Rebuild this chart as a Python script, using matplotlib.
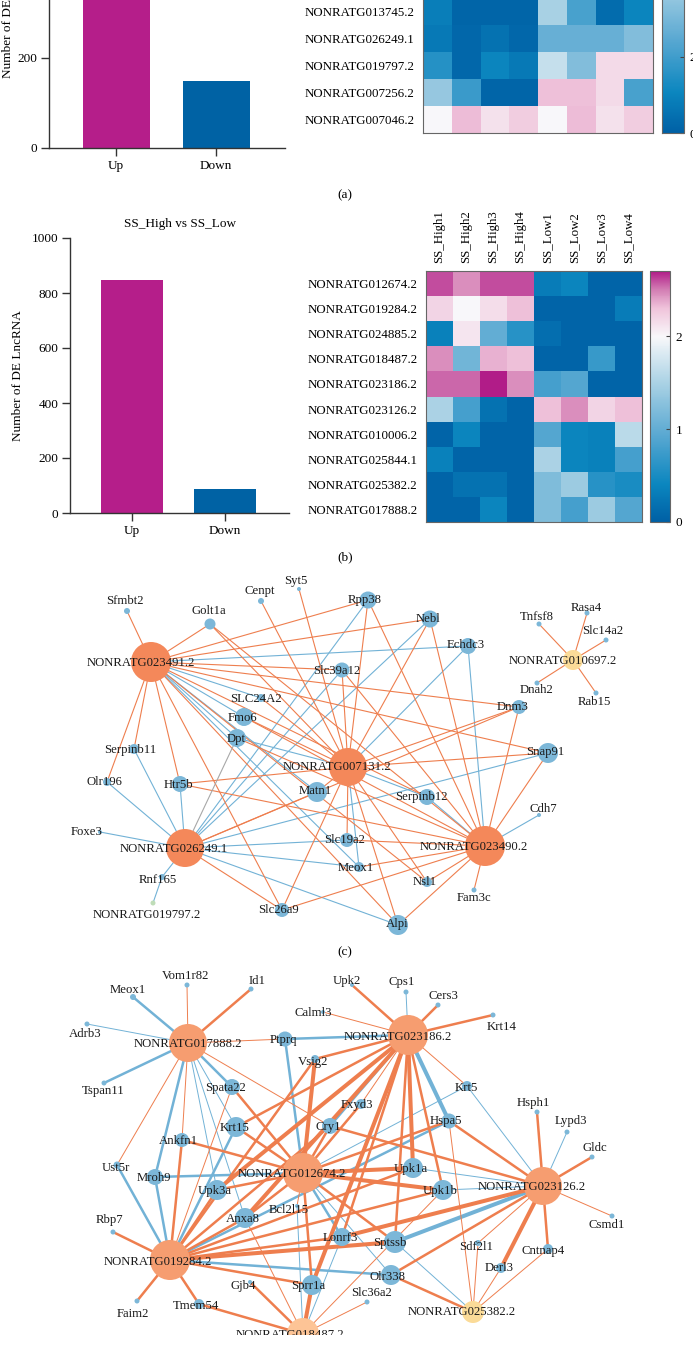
import matplotlib
matplotlib.use('Agg')
import matplotlib.pyplot as plt
import numpy as np
from matplotlib.colors import LinearSegmentedColormap
from matplotlib.patches import Circle, Rectangle
from matplotlib.collections import LineCollection

plt.rcParams['font.family'] = ['Liberation Serif', 'DejaVu Serif']
plt.rcParams['font.size'] = 9

W, H = 693, 1345

# ---------------- data ----------------
bar_groups = ['Up', 'Down']
bar_a = [405, 148]
bar_b = [848, 86]
title_b = 'SS_High vs SS_Low'

samples = ['SS_High1', 'SS_High2', 'SS_High3', 'SS_High4',
           'SS_Low1', 'SS_Low2', 'SS_Low3', 'SS_Low4']

genes_a = ['NONRATG013745.2', 'NONRATG026249.1', 'NONRATG019797.2',
           'NONRATG007256.2', 'NONRATG007046.2']
heat_a = np.array([
    [0.85, 0.15, 0.15, 0.15, 3.9, 2.15, 0.35, 1.05],
    [0.7, 0.2, 0.5, 0.2, 2.7, 2.7, 2.7, 3.2],
    [1.55, 0.2, 1.05, 0.7, 4.4, 3.2, 5.7, 5.7],
    [3.55, 1.9, 0.15, 0.15, 6.05, 6.05, 5.7, 2.15],
    [5.25, 6.1, 5.6, 5.9, 5.25, 6.1, 5.6, 5.9],
])

genes_b = ['NONRATG012674.2', 'NONRATG019284.2', 'NONRATG024885.2',
           'NONRATG018487.2', 'NONRATG023186.2', 'NONRATG023126.2',
           'NONRATG010006.2', 'NONRATG025844.1', 'NONRATG025382.2',
           'NONRATG017888.2']
heat_b = np.array([
    [2.6, 2.45, 2.6, 2.6, 0.3, 0.4, 0.05, 0.05],
    [2.2, 2.0, 2.15, 2.3, 0.05, 0.05, 0.05, 0.3],
    [0.35, 2.1, 1.0, 0.6, 0.15, 0.05, 0.05, 0.05],
    [2.45, 1.1, 2.35, 2.3, 0.05, 0.05, 0.7, 0.05],
    [2.55, 2.55, 2.7, 2.45, 0.8, 0.9, 0.05, 0.05],
    [1.5, 0.8, 0.2, 0.05, 2.3, 2.45, 2.2, 2.3],
    [0.05, 0.4, 0.05, 0.05, 0.9, 0.4, 0.35, 1.6],
    [0.35, 0.05, 0.05, 0.05, 1.5, 0.4, 0.35, 0.8],
    [0.05, 0.2, 0.2, 0.05, 1.2, 1.4, 0.6, 0.5],
    [0.05, 0.05, 0.4, 0.05, 1.2, 0.8, 1.4, 0.9],
])

# network (c): lncRNA - mRNA pairs
A, B, C, D = 'NONRATG023491.2', 'NONRATG007131.2', 'NONRATG026249.1', 'NONRATG023490.2'
Y, G = 'NONRATG010697.2', 'NONRATG019797.2'
lnc_c = [A, B, C, D, Y, G]
edges_c_pos = [
    (A, 'Sfmbt2'), (A, 'Golt1a'), (A, 'Rpp38'), (A, 'Nebl'), (A, 'Slc39a12'), (A, 'Dnm3'),
    (A, 'Snap91'), (A, 'Serpinb12'), (A, 'Serpinb11'), (A, 'Olr196'), (A, 'Htr5b'),
    (A, 'Slc26a9'), (A, 'Nsl1'), (A, 'Alpi'),
    (B, 'Cenpt'), (B, 'Syt5'), (B, 'Golt1a'), (B, 'SLC24A2'), (B, 'Fmo6'), (B, 'Rpp38'),
    (B, 'Nebl'), (B, 'Slc39a12'), (B, 'Dnm3'), (B, 'Snap91'), (B, 'Matn1'), (B, 'Slc19a2'),
    (B, 'Nsl1'), (B, 'Alpi'), (B, 'Slc26a9'), (B, 'Htr5b'),
    (C, 'Matn1'), (C, 'Dnm3'), (C, 'Slc26a9'),
    (D, 'Rpp38'), (D, 'Nebl'), (D, 'Dnm3'), (D, 'Snap91'), (D, 'Slc39a12'), (D, 'Fmo6'),
    (D, 'Dpt'), (D, 'Htr5b'), (D, 'Slc19a2'), (D, 'Meox1'), (D, 'Nsl1'), (D, 'Fam3c'),
    (D, 'Alpi'), (D, 'Slc26a9'), (D, 'Golt1a'),
    (Y, 'Tnfsf8'), (Y, 'Rasa4'), (Y, 'Slc14a2'), (Y, 'Dnah2'), (Y, 'Rab15'),
]
edges_c_neg = [
    (A, 'Echdc3'), (A, 'Fmo6'), (A, 'Dpt'), (A, 'Matn1'), (A, 'SLC24A2'), (A, 'Meox1'),
    (B, 'Echdc3'), (B, 'Serpinb12'), (B, 'Meox1'), (B, 'Dpt'),
    (C, 'Serpinb11'), (C, 'Olr196'), (C, 'Htr5b'), (C, 'Foxe3'), (C, 'Rnf165'),
    (C, 'Slc39a12'), (C, 'Rpp38'), (C, 'Nebl'), (C, 'Slc19a2'), (C, 'Meox1'), (C, 'Alpi'),
    (C, 'Snap91'),
    (D, 'Echdc3'), (D, 'Cdh7'), (D, 'Serpinb12'),
    (G, 'Rnf165'),
]
edges_c_other = [(C, 'Dpt')]

# network (d): lncRNA - mRNA pairs with correlation strength class
E, F, Gd, Hd = 'NONRATG017888.2', 'NONRATG023186.2', 'NONRATG012674.2', 'NONRATG019284.2'
I, J, K = 'NONRATG023126.2', 'NONRATG025382.2', 'NONRATG018487.2'
lnc_d = [E, F, Gd, Hd, I, J, K]
edges_d_pos = [
    (E, 'Vom1r82', 1), (E, 'Id1', 2), (E, 'Ptprq', 1), (E, 'Ust5r', 1), (E, 'Ankfn1', 1), (E, 'Cry1', 1),
    (F, 'Upk2', 2), (F, 'Calml3', 1), (F, 'Cers3', 2), (F, 'Krt14', 2), (F, 'Krt5', 1), (F, 'Vsig2', 2),
    (F, 'Fxyd3', 1), (F, 'Upk1a', 3), (F, 'Upk1b', 2), (F, 'Sptssb', 2), (F, 'Upk3a', 3),
    (F, 'Anxa8', 3), (F, 'Krt15', 2), (F, 'Sprr1a', 3), (F, 'Lonrf3', 2),
    (Gd, 'Krt15', 2), (Gd, 'Ankfn1', 2), (Gd, 'Upk3a', 2), (Gd, 'Anxa8', 2), (Gd, 'Vsig2', 3),
    (Gd, 'Fxyd3', 2), (Gd, 'Cry1', 2), (Gd, 'Upk1a', 3), (Gd, 'Upk1b', 3), (Gd, 'Sptssb', 2),
    (Gd, 'Sprr1a', 2), (Gd, 'Bcl2l15', 1), (Gd, 'Hspa5', 2), (Gd, 'Spata22', 2),
    (Hd, 'Rbp7', 2), (Hd, 'Faim2', 2), (Hd, 'Tmem54', 2), (Hd, 'Ankfn1', 2), (Hd, 'Upk3a', 2),
    (Hd, 'Anxa8', 2), (Hd, 'Sprr1a', 2), (Hd, 'Upk1a', 2), (Hd, 'Upk1b', 2), (Hd, 'Lonrf3', 2),
    (Hd, 'Sptssb', 3), (Hd, 'Cry1', 2), (Hd, 'Spata22', 1), (Hd, 'Vsig2', 2),
    (I, 'Hsph1', 2), (I, 'Gldc', 2), (I, 'Csmd1', 1), (I, 'Cntnap4', 2), (I, 'Derl3', 3),
    (I, 'Sdf2l1', 1), (I, 'Hspa5', 2), (I, 'Cry1', 2), (I, 'Olr338', 2), (I, 'Lonrf3', 3),
    (J, 'Sdf2l1', 1), (J, 'Derl3', 1), (J, 'Cntnap4', 1), (J, 'Olr338', 2), (J, 'Hspa5', 1),
    (K, 'Gjb4', 2), (K, 'Tmem54', 2), (K, 'Sprr1a', 3), (K, 'Slc36a2', 1), (K, 'Anxa8', 1),
    (K, 'Upk1b', 1),
]
edges_d_neg = [
    (E, 'Meox1', 2), (E, 'Adrb3', 1), (E, 'Tspan11', 2), (E, 'Mroh9', 2), (E, 'Krt15', 1),
    (E, 'Spata22', 2), (E, 'Upk3a', 1), (E, 'Anxa8', 1),
    (F, 'Cps1', 1), (F, 'Ptprq', 2), (F, 'Hspa5', 3), (F, 'Cry1', 2),
    (Gd, 'Mroh9', 2), (Gd, 'Ptprq', 2), (Gd, 'Olr338', 1), (Gd, 'Lonrf3', 2), (Gd, 'Krt5', 1),
    (Hd, 'Ust5r', 2), (Hd, 'Mroh9', 2), (Hd, 'Krt15', 2), (Hd, 'Olr338', 2), (Hd, 'Hspa5', 2),
    (I, 'Lypd3', 1), (I, 'Krt5', 1), (I, 'Upk1a', 1), (I, 'Upk1b', 1), (I, 'Sptssb', 3),
    (J, 'Sptssb', 1),
    (K, 'Bcl2l15', 1), (K, 'Lonrf3', 1),
]

# ---------------- layout (pixel coords: x, y, radius, label x, label y) ----------------
layout_c = {
    A: (151, 662, 20, 141, 663), B: (348, 767, 19, 337, 767),
    C: (185, 848, 19, 174, 849), D: (485, 846, 20, 474, 847),
    Y: (573, 660, 10, 563, 661), G: (153, 903, 2.5, 147, 915),
    'Sfmbt2': (127, 611, 3, 125, 601), 'Golt1a': (210, 624, 5.5, 209, 611),
    'Cenpt': (261, 601, 3, 260, 591), 'Syt5': (299, 589, 2, 296, 581),
    'Rpp38': (368, 600, 8.5, 365, 600), 'Nebl': (430, 619, 8.5, 428, 619),
    'Echdc3': (468, 646, 8, 466, 645), 'Slc39a12': (342, 670, 7.5, 337, 671),
    'SLC24A2': (261, 698, 4, 256, 699), 'Fmo6': (244, 717, 9, 242, 718),
    'Dpt': (237, 738, 9, 236, 739), 'Serpinb11': (134, 749, 5, 130, 750),
    'Olr196': (107, 782, 4, 104, 782), 'Htr5b': (180, 784, 8, 178, 785),
    'Matn1': (317, 792, 10, 315, 791), 'Dnm3': (519, 707, 7, 513, 707),
    'Snap91': (548, 753, 10, 545, 752), 'Serpinb12': (427, 797, 8, 421, 797),
    'Cdh7': (539, 815, 2, 543, 809), 'Foxe3': (100, 832, 2, 87, 832),
    'Slc19a2': (347, 840, 7, 345, 840), 'Meox1': (359, 867, 5, 356, 868),
    'Nsl1': (427, 882, 5, 425, 882), 'Fam3c': (474, 890, 2.5, 474, 898),
    'Rnf165': (162, 877, 3, 158, 880), 'Slc26a9': (282, 910, 7, 278, 910),
    'Alpi': (398, 925, 10, 397, 924), 'Tnfsf8': (539, 624, 2.5, 537, 617),
    'Rasa4': (587, 613, 2.5, 586, 608), 'Slc14a2': (606, 640, 2.5, 603, 631),
    'Dnah2': (537, 683, 2.5, 537, 690), 'Rab15': (596, 693, 2.5, 594, 702),
}
layout_d = {
    E: (188, 1043, 19, 188, 1044), F: (408, 1035, 20, 398, 1037),
    Gd: (303, 1173, 20, 292, 1174), Hd: (170, 1260, 20, 158, 1262),
    I: (543, 1186, 19, 532, 1187), J: (473, 1312, 11, 462, 1312),
    K: (303, 1334, 16, 290, 1335),
    'Meox1': (133, 997, 3, 128, 990), 'Vom1r82': (187, 985, 2.5, 186, 976),
    'Id1': (251, 989, 2.5, 257, 981), 'Adrb3': (87, 1024, 2.5, 85, 1034),
    'Tspan11': (104, 1083, 2.5, 103, 1091), 'Ptprq': (285, 1039, 7.5, 283, 1040),
    'Calml3': (323, 1012, 2, 313, 1013), 'Vsig2': (315, 1059, 4, 313, 1062),
    'Spata22': (232, 1087, 8, 226, 1088), 'Upk2': (352, 985, 2, 347, 981),
    'Cps1': (406, 992, 2.5, 402, 982), 'Cers3': (438, 1005, 2.5, 443, 996),
    'Krt14': (493, 1015, 2.5, 502, 1027), 'Krt5': (467, 1086, 5, 466, 1088),
    'Fxyd3': (361, 1104, 5, 357, 1105), 'Krt15': (236, 1127, 10, 235, 1128),
    'Cry1': (330, 1126, 8, 328, 1127), 'Hsph1': (537, 1112, 2.5, 533, 1103),
    'Lypd3': (567, 1132, 2.5, 571, 1121), 'Gldc': (592, 1157, 2.5, 595, 1148),
    'Csmd1': (612, 1216, 2.5, 607, 1225), 'Hspa5': (449, 1121, 7.5, 446, 1121),
    'Ankfn1': (182, 1140, 7, 178, 1141), 'Ust5r': (117, 1165, 3.5, 116, 1168),
    'Mroh9': (155, 1177, 8, 154, 1178), 'Upk3a': (217, 1190, 10, 215, 1191),
    'Upk1a': (413, 1168, 10, 411, 1169), 'Upk1b': (443, 1190, 10, 440, 1191),
    'Anxa8': (245, 1218, 10, 243, 1219), 'Bcl2l15': (297, 1206, 2, 289, 1210),
    'Rbp7': (113, 1232, 2.5, 110, 1220), 'Lonrf3': (342, 1237, 9, 340, 1238),
    'Sptssb': (395, 1242, 11, 390, 1243), 'Sdf2l1': (478, 1243, 3, 476, 1247),
    'Cntnap4': (548, 1249, 5, 543, 1251), 'Derl3': (501, 1268, 5, 499, 1268),
    'Olr338': (391, 1275, 10, 388, 1277), 'Sprr1a': (312, 1285, 10, 308, 1286),
    'Gjb4': (250, 1282, 2, 243, 1286), 'Faim2': (137, 1301, 2.5, 133, 1314),
    'Tmem54': (199, 1304, 5, 196, 1306), 'Slc36a2': (367, 1302, 2.5, 372, 1293),
}

# ---------------- style ----------------
c_up, c_down = '#B51E8A', '#0062A4'
c_pos, c_neg, c_other = '#EE7E4E', '#72B2D6', '#A8A8A8'
c_mrna = '#7CB7D8'
node_fill = {A: '#F4885A', B: '#F4885A', C: '#F4885A', D: '#F4885A', Y: '#FBDB98', G: '#BFDDB8',
             E: '#F69D70', F: '#F69D70', Gd: '#F69D70', Hd: '#F69D70', I: '#F69D70',
             J: '#FBDB98', K: '#FDC496'}
heat_cmap = LinearSegmentedColormap.from_list('hm', [
    (0.0, '#0060A5'), (0.15, '#0B86BF'), (0.35, '#5BA9D2'), (0.55, '#A8D1E4'),
    (0.74, '#F8F8FA'), (0.85, '#F0C4DB'), (0.93, '#D27CB3'), (1.0, '#B11C88')])

fig = plt.figure(figsize=(W / 100, H / 100), dpi=100)


def box(x0, y0, x1, y1):
    return [x0 / W, 1 - y1 / H, (x1 - x0) / W, (y1 - y0) / H]


def fxy(x, y):
    return x / W, 1 - y / H


# ---- networks on a pixel-mapped canvas ----
net = fig.add_axes([0, 0, 1, 1])
net.set_xlim(0, W)
net.set_ylim(H, 0)
net.axis('off')


def draw_network(layout, pos, neg, other, weighted):
    lw_map = {1: 0.7, 2: 1.8, 3: 2.9}
    for lst, col in ((neg, c_neg), (pos, c_pos), (other, c_other)):
        segs, lws = [], []
        for e in lst:
            a, b = e[0], e[1]
            segs.append([layout[a][:2], layout[b][:2]])
            lws.append(lw_map[e[2]] if weighted else 0.8)
        net.add_collection(LineCollection(segs, colors=col, linewidths=lws, zorder=1,
                                          capstyle='round'))
    for name, (x, y, r, lx, ly) in layout.items():
        net.add_patch(Circle((x, y), r, fc=node_fill.get(name, c_mrna), ec='none', zorder=2))
        net.text(lx, ly, name, ha='center', va='center', fontsize=9.2, color='#1a1a1a',
                 zorder=3)


draw_network(layout_c, edges_c_pos, edges_c_neg, edges_c_other, False)
draw_network(layout_d, edges_d_pos, edges_d_neg, [], True)
# the source panel (d) is cropped a little above the bottom edge
net.add_patch(Rectangle((0, 1335), W, 20, fc='white', ec='none', zorder=5))


# ---- bar charts ----
def bar_panel(px, vals, ymax, step, lab_x):
    ax = fig.add_axes(box(*px))
    ax.bar(range(len(vals)), vals, width=0.67, color=[c_up, c_down])
    ax.set_xlim(-0.67, 1.69)
    ax.set_ylim(0, ymax)
    ax.set_yticks(np.arange(0, ymax + 1, step))
    ax.set_xticks(range(len(bar_groups)))
    ax.set_xticklabels(bar_groups)
    for s in ('top', 'right'):
        ax.spines[s].set_visible(False)
    for s in ('left', 'bottom'):
        ax.spines[s].set_color('#333333')
        ax.spines[s].set_linewidth(1)
    ax.tick_params(length=5.5, width=1, color='#333333', labelsize=9.5, pad=3)
    cy = (px[1] + px[3]) / 2
    fig.text(*fxy(lab_x, cy), 'Number of DE LncRNA', rotation=90, ha='center',
             va='center', fontsize=9.5)
    return ax


bar_panel((49, -122, 285, 148), bar_a, 600, 200, 8)
axb = bar_panel((70, 238, 289, 513), bar_b, 1000, 200, 18)
fig.text(*fxy(180, 224), title_b, ha='center', va='center', fontsize=9.5)


# ---- heatmaps ----
def heat_panel(px, cpx, vals, rows, vmax, ticks, top_labels):
    ax = fig.add_axes(box(*px))
    im = ax.pcolormesh(vals, cmap=heat_cmap, vmin=0, vmax=vmax)
    ax.set_xlim(0, vals.shape[1])
    ax.set_ylim(vals.shape[0], 0)
    ax.set_yticks(np.arange(len(rows)) + 0.5)
    ax.set_yticklabels(rows, fontsize=9.3)
    if top_labels:
        ax.xaxis.tick_top()
        ax.set_xticks(np.arange(len(samples)) + 0.5)
        ax.set_xticklabels(samples, rotation=90, fontsize=9.3)
    else:
        ax.set_xticks([])
    ax.tick_params(length=0, pad=6)
    for s in ax.spines.values():
        s.set_color('#666666')
        s.set_linewidth(0.8)
    cax = fig.add_axes(box(*cpx))
    cb = fig.colorbar(im, cax=cax, ticks=ticks)
    cb.outline.set_edgecolor('#666666')
    cb.outline.set_linewidth(0.8)
    cax.tick_params(length=3, width=0.8, direction='in', color='#444444', labelsize=9.5, pad=4)


heat_panel((423, -2, 653, 133), (662, -137, 684, 133), heat_a, genes_a, 7.1, [0, 2, 4, 6], False)
heat_panel((426, 271, 642, 522), (650, 271, 670, 522), heat_b, genes_b, 2.7, [0, 1, 2], True)

# ---- panel tags ----
for tag, x, y in (('(a)', 345, 195), ('(b)', 345, 557), ('(c)', 345, 952)):
    fig.text(*fxy(x, y), tag, ha='center', va='center', fontsize=9.5)

fig.savefig('out.png', dpi=100)
